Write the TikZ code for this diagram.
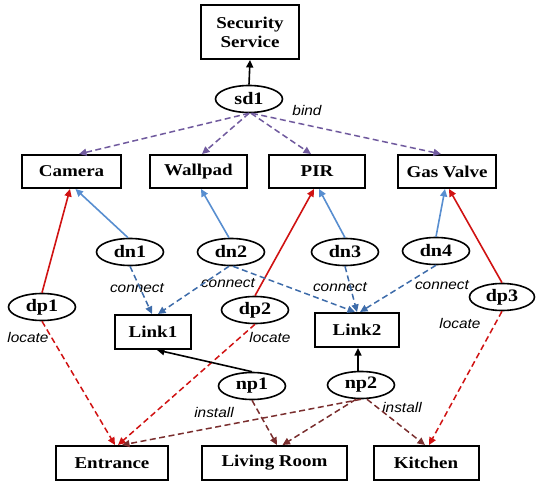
\documentclass[tikz,border=0pt]{standalone}
\usepackage{fontspec}
\setmainfont{Liberation Serif}
\newfontfamily\boxfont[FakeStretch=1.15]{Liberation Serif}
\newfontfamily\edgefont[FakeStretch=1.1]{Liberation Sans}
\usetikzlibrary{shapes.geometric,arrows.meta}
\definecolor{bindc}{RGB}{112,90,158}
\definecolor{bluesolid}{RGB}{88,142,208}
\definecolor{bluedash}{RGB}{62,108,170}
\definecolor{redc}{RGB}{208,18,18}
\definecolor{brownc}{RGB}{122,46,46}
\begin{document}
\begin{tikzpicture}[x=1pt,y=-1pt,
  box/.style={draw,line width=2pt,inner sep=0pt,minimum height=33pt,align=center,
    font=\boxfont\bfseries\fontsize{16.5}{19}\selectfont},
  oval/.style={ellipse,draw,line width=1.6pt,inner sep=0pt,minimum width=67pt,minimum height=27pt,
    font=\boxfont\bfseries\fontsize{17.5}{19}\selectfont},
  lab/.style={inner sep=0pt,font=\edgefont\itshape\fontsize{14}{14}\selectfont},
  tip/.style={-{Triangle[length=7.5pt,width=7pt]}},
  kline/.style={tip,line width=1.6pt,draw=black},
  bindl/.style={tip,line width=1.5pt,draw=bindc,dash pattern=on 6pt off 3.5pt},
  bsolid/.style={tip,line width=1.6pt,draw=bluesolid},
  bdash/.style={tip,line width=1.5pt,draw=bluedash,dash pattern=on 6pt off 3.5pt},
  rsolid/.style={tip,line width=1.6pt,draw=redc},
  rdash/.style={tip,line width=1.5pt,draw=redc,dash pattern=on 6pt off 3.5pt},
  ndash/.style={tip,line width=1.5pt,draw=brownc,dash pattern=on 6pt off 3.5pt}]
\useasboundingbox (0,0) rectangle (536,484);

% service, devices, links and places
\node[box,minimum width=98pt,minimum height=54pt] (sec) at (250,32) {Security\\Service};
\node[box,minimum width=99pt] (cam) at (71.5,171.5) {Camera};
\node[box,minimum width=97pt] (wall) at (198.5,171.5) {Wallpad};
\node[box,minimum width=96pt] (pir) at (317,171.5) {PIR};
\node[box,minimum width=98pt] (gas) at (447,171.5) {Gas Valve};
\node[box,minimum width=76pt,minimum height=34pt] (lnkA) at (153,332) {Link1};
\node[box,minimum width=84pt,minimum height=34pt] (lnkB) at (357,330) {Link2};
\node[box,minimum width=112pt,minimum height=34pt] (ent) at (112,463) {Entrance};
\node[box,minimum width=145pt,minimum height=34pt] (liv) at (274.5,463) {Living Room};
\node[box,minimum width=105pt,minimum height=34pt] (kit) at (426,463) {Kitchen};

% descriptors
\node[oval] (sd) at (249,99) {sd1};
\node[oval] (dnA) at (130,252) {dn1};
\node[oval] (dnB) at (231,252) {dn2};
\node[oval] (dnC) at (345,252) {dn3};
\node[oval] (dnD) at (436,251) {dn4};
\node[oval] (dpA) at (42,307) {dp1};
\node[oval] (dpB) at (255,310) {dp2};
\node[oval,minimum width=65pt] (dpC) at (502,297) {dp3};
\node[oval] (npA) at (252,386) {np1};
\node[oval] (npB) at (361,385) {np2};

% relation labels
\node[lab] (lbind) at (307,111) {bind};
\node[lab] (lconA) at (137,288) {connect};
\node[lab] (lconB) at (228,283) {connect};
\node[lab] (lconC) at (340,287) {connect};
\node[lab] (lconD) at (442,285) {connect};
\node[lab] (llocA) at (28,337) {locate};
\node[lab] (llocB) at (270,337) {locate};
\node[lab] (llocC) at (460,323) {locate};
\node[lab] (linsA) at (214,412) {install};
\node[lab] (linsB) at (402,407) {install};

% bind
\draw[kline] (sd.north) -- (sec.south);
\draw[bindl] (sd.south) -- ([xshift=7.5pt]cam.north);
\draw[bindl] (sd.south) -- ([xshift=3.5pt]wall.north);
\draw[bindl] ([xshift=2pt]sd.south) -- ([xshift=-6pt]pir.north);
\draw[bindl] ([xshift=3pt]sd.south) -- ([xshift=-6pt]gas.north);

% device descriptors
\draw[bsolid] ([xshift=-2pt]dnA.north) -- ([xshift=4pt]cam.south);
\draw[rsolid] (dpA.north) -- ([xshift=-1.5pt]cam.south);
\draw[bsolid] ([xshift=-2pt]dnB.north) -- ([xshift=2.5pt]wall.south);
\draw[bsolid] (dnC.north) -- ([xshift=2pt]pir.south);
\draw[rsolid] (dpB.north) -- ([xshift=-3pt]pir.south);
\draw[bsolid] (dnD.north) -- ([xshift=-2pt]gas.south);
\draw[rsolid] (dpC.north) -- ([xshift=2pt]gas.south);

% connect
\draw[bdash] (dnA.south) -- ([xshift=-1pt]lnkA.north);
\draw[bdash] ([xshift=-2pt]dnB.south) -- ([xshift=5pt]lnkA.north);
\draw[bdash] ([xshift=2pt]dnB.south) -- ([xshift=-2pt]lnkB.north);
\draw[bdash] (dnC.south) -- (lnkB.north);
\draw[bdash] (dnD.south) -- ([xshift=3pt]lnkB.north);

% locate
\draw[rdash] (dpA.south) -- ([xshift=3pt]ent.north);
\draw[rdash] (dpB.south) -- ([xshift=6pt]ent.north);
\draw[rdash] (dpC.south) -- ([xshift=3pt]kit.north);

% network descriptors
\draw[kline] (npA.north) -- ([xshift=4pt]lnkA.south);
\draw[kline] ([xshift=-3pt]npB.north) -- ([xshift=1pt]lnkB.south);

% install
\draw[ndash] (npA.south) -- ([xshift=2.5pt]liv.north);
\draw[ndash] ([xshift=-5pt]npB.south) -- ([xshift=8pt]liv.north);
\draw[ndash] (npB.south) -- ([xshift=10pt]ent.north);
\draw[ndash] ([xshift=6pt]npB.south) -- ([xshift=-1pt]kit.north);
\end{tikzpicture}
\end{document}
